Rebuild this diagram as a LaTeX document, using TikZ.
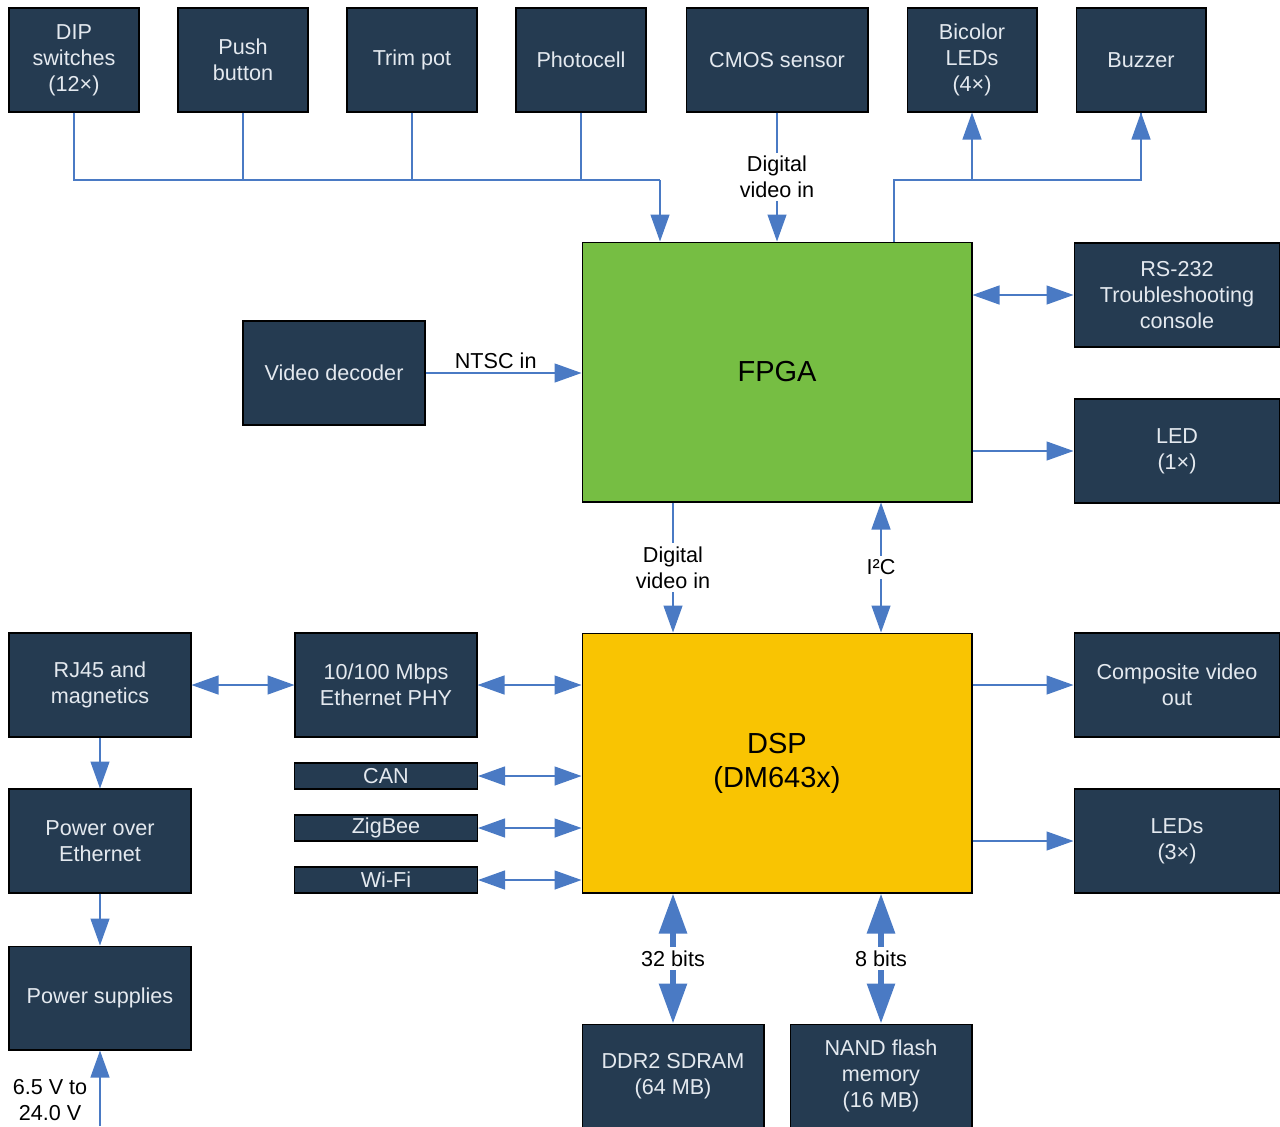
\documentclass[tikz,border=0pt]{standalone}
\usepackage{fontspec}
\setmainfont{Liberation Sans}
\usetikzlibrary{arrows.meta}

\definecolor{blkfill}{HTML}{253B51}
\definecolor{blktext}{HTML}{E4E9EF}
\definecolor{linecol}{HTML}{4A7AC4}
\definecolor{fpgacol}{HTML}{76BE43}
\definecolor{dspcol}{HTML}{F9C402}

\begin{document}
\begin{tikzpicture}[x=0.02cm,y=-0.02cm,
    blk/.style={draw=black,line width=0.6pt,fill=blkfill,text=blktext,align=center,inner sep=0pt,
                minimum width=2.6cm,minimum height=2.08cm,font=\fontsize{12.3}{14.7}\selectfont},
    wide/.style={minimum width=3.64cm},
    side/.style={minimum width=4.12cm},
    thin/.style={minimum width=3.66cm,minimum height=0.52cm},
    core/.style={draw=black,line width=0.6pt,minimum width=7.8cm,minimum height=5.2cm,align=center,
                 font=\fontsize{16.5}{19.3}\selectfont},
    conn/.style={draw=linecol,line width=0.75pt},
    arr/.style={conn,-{Triangle[length=0.54cm,width=0.38cm]}},
    darr/.style={conn,{Triangle[length=0.54cm,width=0.38cm]}-{Triangle[length=0.54cm,width=0.38cm]}},
    membus/.style={draw=linecol,line width=0.12cm,{Triangle[length=0.8cm,width=0.54cm]}-{Triangle[length=0.8cm,width=0.54cm]}},
    lbl/.style={fill=white,inner sep=2pt,align=center,font=\fontsize{12.3}{14.7}\selectfont}]

\useasboundingbox (0,0) rectangle (1280,1126);

% inputs / outputs on top
\foreach \n/\x/\t in {dip/74/{DIP\\switches\\(12×)}, push/243/{Push\\button}, trim/412/{Trim pot},
                      photo/581/{Photocell}, bicolor/972/{Bicolor\\LEDs\\(4×)}, buzzer/1141/{Buzzer}}
    \node[blk] (\n) at (\x,60) {\t};
\node[blk,wide] (cmos) at (777,60) {CMOS sensor};

% the two processors
\node[core,fill=fpgacol] (fpga) at (777,372) {FPGA};
\node[core,fill=dspcol] (dsp) at (777,763) {DSP\\(DM643x)};

\node[blk,wide] (vdec) at (334,373) {Video decoder};
\node[blk,side] (rs232) at (1177,295) {RS-232\\Troubleshooting\\console};
\node[blk,side] (led1) at (1177,451) {LED\\(1×)};
\node[blk,side] (comp) at (1177,685) {Composite video\\out};
\node[blk,side] (leds3) at (1177,841) {LEDs\\(3×)};

\node[blk,wide] (rj45) at (100,685) {RJ45 and\\magnetics};
\node[blk,wide] (phy) at (386,685) {10/100 Mbps\\Ethernet PHY};
\node[blk,wide] (poe) at (100,841) {Power over\\Ethernet};
\node[blk,wide] (psu) at (100,998) {Power supplies};
\foreach \n/\y/\t in {can/776/CAN, zig/828/ZigBee, wifi/880/Wi-Fi}
    \node[blk,thin] (\n) at (386,\y) {\t};

\node[blk,wide] (ddr) at (673,1076) {DDR2 SDRAM\\(64 MB)};
\node[blk,wide] (nand) at (881,1076) {NAND flash\\memory\\(16 MB)};

\coordinate (busin) at (660,180);
\coordinate (busout) at (894,180);
\coordinate (vin) at (100,1126);

% top connections
\draw[conn] (dip.south) |- (busin);
\foreach \n in {push,trim,photo}
    \draw[conn] (\n.south) -- (\n.south |- busin);
\draw[arr] (busin) -- (busin |- fpga.north);
\draw[arr] (cmos.south) -- (cmos.south |- fpga.north) node[midway,lbl] {Digital\\video in};
\draw[conn] (busout |- fpga.north) -- (busout) -| (buzzer.south);
\draw[arr] (busout -| buzzer.south) -- (buzzer.south);
\draw[arr] (bicolor.south |- busout) -- (bicolor.south);

% FPGA
\draw[arr] (vdec.east) -- (vdec.east -| fpga.west) node[pos=0.45,above,inner sep=2pt,font=\fontsize{12.3}{14.7}\selectfont] {NTSC in};
\draw[darr] (fpga.east |- rs232.west) -- (rs232.west);
\draw[arr] (fpga.east |- led1.west) -- (led1.west);
\draw[arr] (fpga.south -| ddr.north) -- (dsp.north -| ddr.north) node[midway,lbl] {Digital\\video in};
\draw[darr] (fpga.south -| nand.north) -- (dsp.north -| nand.north) node[midway,lbl] {I²C};

% DSP
\draw[arr] (dsp.east |- comp.west) -- (comp.west);
\draw[arr] (dsp.east |- leds3.west) -- (leds3.west);
\draw[darr] (phy.east) -- (phy.east -| dsp.west);
\foreach \n in {can,zig,wifi}
    \draw[darr] (\n.east) -- (\n.east -| dsp.west);
\draw[membus] (dsp.south -| ddr.north) -- (ddr.north) node[midway,lbl] {32 bits};
\draw[membus] (dsp.south -| nand.north) -- (nand.north) node[midway,lbl] {8 bits};

% ethernet and power
\draw[darr] (rj45.east) -- (phy.west);
\draw[arr] (rj45.south) -- (poe.north);
\draw[arr] (poe.south) -- (psu.north);
\draw[arr] (vin) -- (psu.south);
\node[align=center,inner sep=0pt,font=\fontsize{12.3}{14.7}\selectfont] (vlbl) at (50,1100) {6.5 V to\\24.0 V};

\end{tikzpicture}
\end{document}
